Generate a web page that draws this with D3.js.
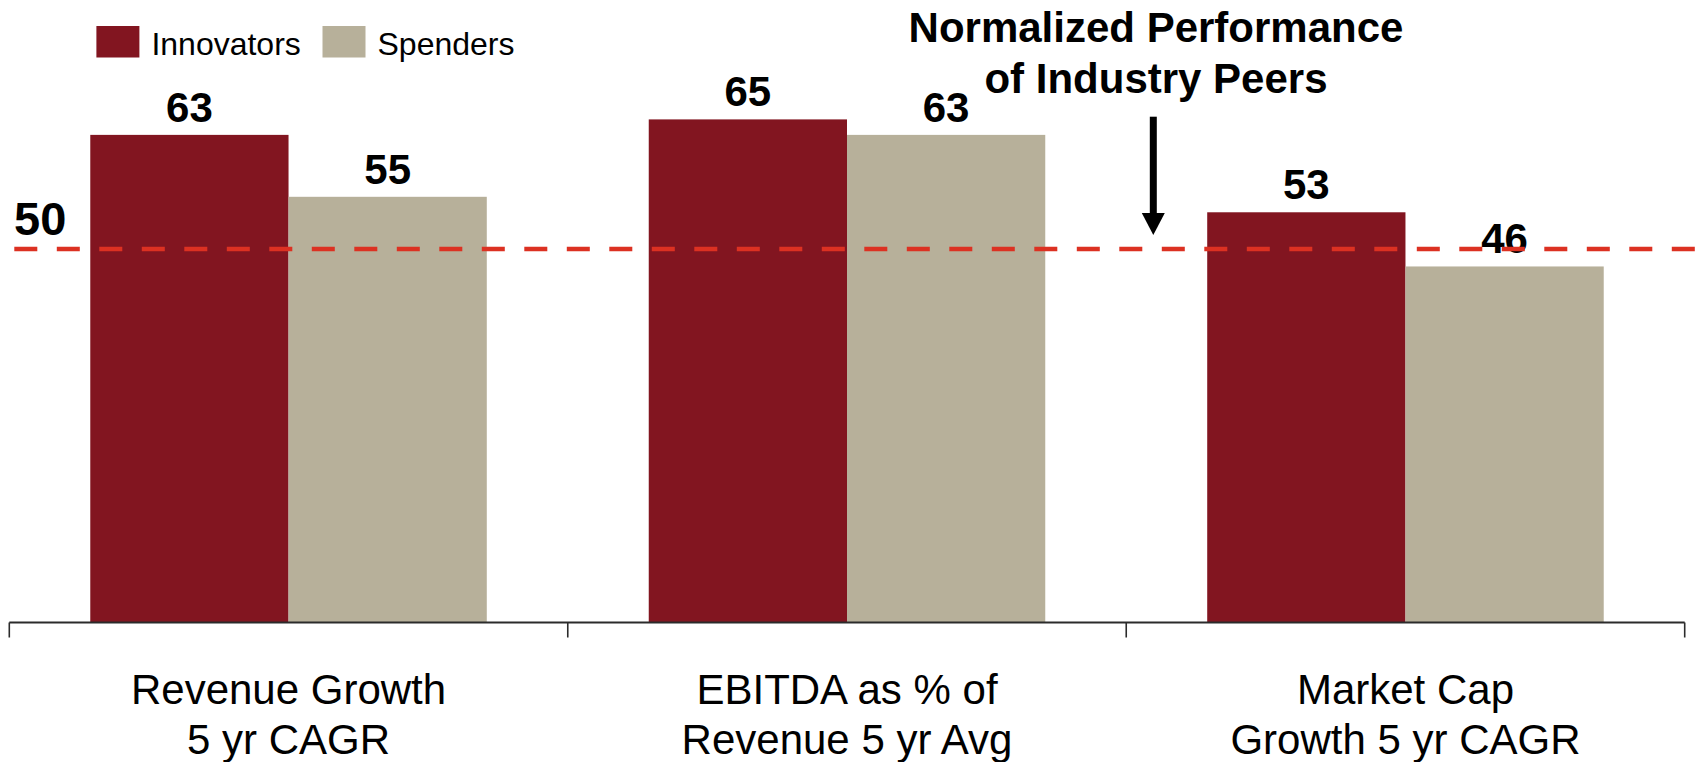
<!DOCTYPE html>
<html>
<head>
<meta charset="utf-8">
<script src="https://cdn.jsdelivr.net/npm/d3@7"></script>
<style>
  html, body { margin: 0; padding: 0; background: #fff; }
  svg { display: block; font-family: "Liberation Sans", Arial, Helvetica, sans-serif; }
</style>
</head>
<body>
<svg id="chart" width="1697" height="762"></svg>
<script>
// ---- data ----
const categories = ["Revenue Growth|5 yr CAGR", "EBITDA as % of|Revenue 5 yr Avg", "Market Cap|Growth 5 yr CAGR"];
const seriesNames = ["Innovators", "Spenders"];
const innovators = [63, 65, 53];
const spenders = [55, 63, 46];
const peerLevel = 48.25;      // position of the dashed reference line
const peerLabel = "50";
const titleLines = ["Normalized Performance", "of Industry Peers"];
const colors = ["#821520", "#b7b09a"];

// ---- layout ----
const W = 1697, H = 762;
const svg = d3.select("#chart");

const x0 = d3.scaleBand().domain(categories).range([9.3, 1684.7]).paddingInner(0.29).paddingOuter(0.145);
const x1 = d3.scaleBand().domain(seriesNames).range([0, x0.bandwidth()]).padding(0);
const y = d3.scaleLinear().domain([0, 80]).range([622.5, 622.5 - 80 * 7.74]);

const rows = categories.map((c, i) => ({ cat: c, values: [
  { s: seriesNames[0], v: innovators[i] },
  { s: seriesNames[1], v: spenders[i] }
]}));
const color = d3.scaleOrdinal().domain(seriesNames).range(colors);

// bars
const g = svg.append("g");
const groups = g.selectAll("g.grp").data(rows).join("g")
  .attr("class", "grp")
  .attr("transform", d => `translate(${x0(d.cat)},0)`);

groups.selectAll("rect").data(d => d.values).join("rect")
  .attr("x", d => x1(d.s))
  .attr("y", d => y(d.v))
  .attr("width", x1.bandwidth())
  .attr("height", d => y(0) - y(d.v))
  .attr("fill", d => color(d.s));

// value labels
groups.selectAll("text.val").data(d => d.values).join("text")
  .attr("class", "val")
  .attr("x", d => x1(d.s) + x1.bandwidth() / 2)
  .attr("y", d => y(d.v) - 13)
  .attr("text-anchor", "middle")
  .attr("font-size", 42)
  .attr("font-weight", "bold")
  .attr("fill", "#000")
  .text(d => d.v);

// axis (category boundaries)
const step = x0.step();
const r0 = x0.range()[0];
const bounds = d3.range(categories.length + 1).map(i => r0 + i * step);
const axis = svg.append("g");
axis.append("line")
  .attr("x1", bounds[0]).attr("x2", bounds[bounds.length - 1])
  .attr("y1", y(0)).attr("y2", y(0))
  .attr("stroke", "#2b2b2b").attr("stroke-width", 2);
axis.selectAll("line.tick").data(bounds).join("line")
  .attr("class", "tick")
  .attr("x1", d => d).attr("x2", d => d)
  .attr("y1", y(0)).attr("y2", y(0) + 15)
  .attr("stroke", "#2b2b2b").attr("stroke-width", 1.6);

// category labels
const catLabels = svg.append("g").selectAll("text").data(categories).join("text")
  .attr("x", d => x0(d) + x0.bandwidth() / 2)
  .attr("y", 703.5)
  .attr("text-anchor", "middle")
  .attr("font-size", 42)
  .attr("fill", "#000");
catLabels.selectAll("tspan").data(d => d.split("|")).join("tspan")
  .attr("x", function () { return d3.select(this.parentNode).attr("x"); })
  .attr("dy", (d, i) => i === 0 ? 0 : 50)
  .text(d => d);

// dashed reference line
svg.append("line")
  .attr("x1", 14.3).attr("x2", W)
  .attr("y1", y(peerLevel)).attr("y2", y(peerLevel))
  .attr("stroke", "#dc3122")
  .attr("stroke-width", 4.6)
  .attr("stroke-dasharray", "23,19.5");

svg.append("text")
  .attr("x", 14).attr("y", y(peerLevel) - 14)
  .attr("font-size", 47).attr("font-weight", "bold")
  .attr("fill", "#000")
  .text(peerLabel);

// legend
const legend = svg.append("g");
const legendX = [96.4, 322.5];
seriesNames.forEach((s, i) => {
  legend.append("rect")
    .attr("x", legendX[i]).attr("y", 26)
    .attr("width", 43).attr("height", 31.5)
    .attr("fill", color(s));
  legend.append("text")
    .attr("x", legendX[i] + 55).attr("y", 55)
    .attr("font-size", 32).attr("fill", "#000")
    .text(s);
});

// title annotation + arrow
const title = svg.append("g");
title.selectAll("text").data(titleLines).join("text")
  .attr("x", 1156)
  .attr("y", (d, i) => 41.7 + i * 51)
  .attr("text-anchor", "middle")
  .attr("font-size", 42)
  .attr("font-weight", "bold")
  .attr("fill", "#000")
  .text(d => d);

const ax = 1153.3;
title.append("line")
  .attr("x1", ax).attr("x2", ax)
  .attr("y1", 116.7).attr("y2", 215)
  .attr("stroke", "#000").attr("stroke-width", 7);
title.append("path")
  .attr("d", `M${ax - 11.5},213L${ax + 11.5},213L${ax},235Z`)
  .attr("fill", "#000");
</script>
</body>
</html>
